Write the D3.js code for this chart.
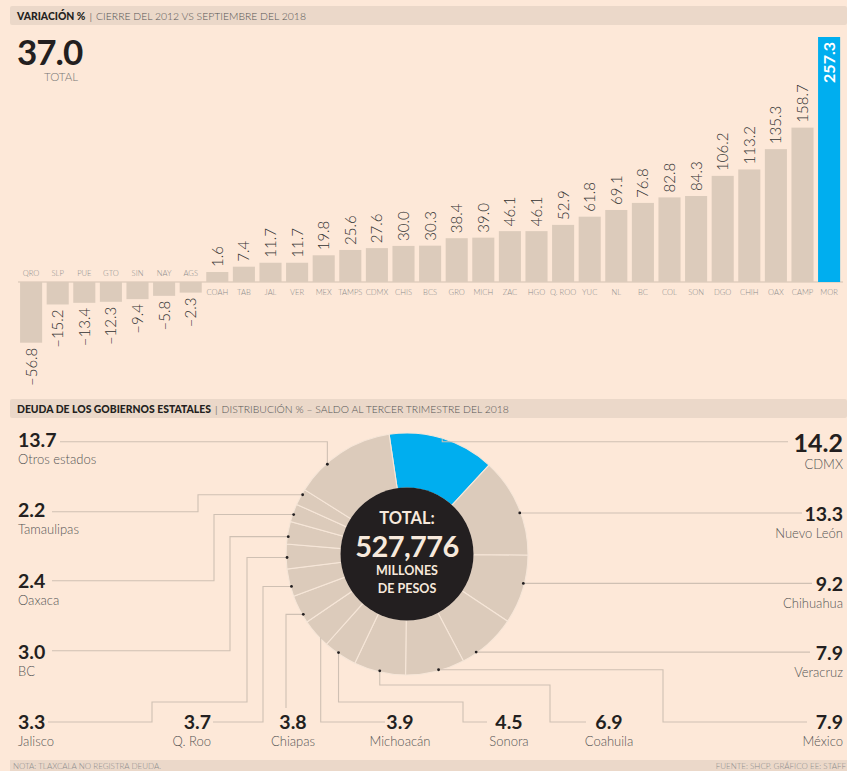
<!DOCTYPE html>
<html>
<head>
<meta charset="utf-8">
<script src="https://cdn.jsdelivr.net/npm/d3@7"></script>
<style>
  body { margin: 0; background: #fde8d8; }
  text { font-family: Lato, "Open Sans", sans-serif; }
</style>
</head>
<body>
<script>
// Variación % por estado, cierre 2012 vs sept 2018
const barStates = ["QRO","SLP","PUE","GTO","SIN","NAY","AGS","COAH","TAB","JAL","VER","MEX","TAMPS","CDMX","CHIS","BCS","GRO","MICH","ZAC","HGO","Q. ROO","YUC","NL","BC","COL","SON","DGO","CHIH","OAX","CAMP","MOR"];
const barValues = [-56.8,-15.2,-13.4,-12.3,-9.4,-5.8,-2.3,1.6,7.4,11.7,11.7,19.8,25.6,27.6,30.0,30.3,38.4,39.0,46.1,46.1,52.9,61.8,69.1,76.8,82.8,84.3,106.2,113.2,135.3,158.7,257.3];
const highlightBar = "MOR";
const totalVariation = "37.0";

// Distribución % de la deuda, tercer trimestre 2018
const debtStates = ["CDMX","Nuevo León","Chihuahua","Veracruz","México","Coahuila","Sonora","Michoacán","Chiapas","Q. Roo","Jalisco","BC","Oaxaca","Tamaulipas","Otros estados"];
const debtShare = [14.2,13.3,9.2,7.9,7.9,6.9,4.5,3.9,3.8,3.7,3.3,3.0,2.4,2.2,13.7];
const highlightDebt = "CDMX";
const totalDebt = "527,776";

// leader line layout (where the dot sits inside each slice, elbows, label anchor)
const leaders = [
  {dot: 0.5,  show: false, path: [["V",441.7],["H",788]], x: 843, anchor: "end", y: 451.7, big: true},
  {dot: 0.57, show: true,  path: [["H",802]], x: 843, anchor: "end", y: 520.7},
  {dot: 0.41, show: true,  path: [["H",812]], x: 843, anchor: "end", y: 591},
  {dot: 0.74, show: true,  path: [["H",810]], x: 843, anchor: "end", y: 660},
  {dot: 0.44, show: true,  path: [["H",663],["V",722],["H",807]], x: 843, anchor: "end", y: 729.3},
  {dot: 0.5,  show: true,  path: [["V",685],["H",550],["V",722],["H",586]], x: 609, anchor: "middle", y: 729.3},
  {dot: 0.57, show: true,  path: [["V",702],["H",463],["V",722],["H",487]], x: 509, anchor: "middle", y: 729.3},
  {dot: 0.3,  show: false, path: [["V",722],["H",385]], x: 400, anchor: "middle", y: 729.3},
  {dot: 0.29, show: true,  path: [["H",286],["V",708]], x: 293, anchor: "middle", y: 729.3},
  {dot: 0.36, show: true,  path: [["H",263],["V",722],["H",213]], x: 211, anchor: "end", y: 729.3},
  {dot: 0.46, show: true,  path: [["H",247],["V",702],["H",152],["V",722],["H",48]], x: 18, anchor: "start", y: 729.3},
  {dot: 0.33, show: true,  path: [["H",230],["V",650.7],["H",52]], x: 18, anchor: "start", y: 659.3},
  {dot: 0.42, show: true,  path: [["H",214],["V",580.7],["H",52]], x: 18, anchor: "start", y: 588.3},
  {dot: 0.68, show: true,  path: [["H",198],["V",511.7],["H",52]], x: 18, anchor: "start", y: 517.3},
  {dot: 0.33, show: true,  path: [["V",441.7],["H",60]], x: 18, anchor: "start", y: 447}
];

const width = 847, height = 771;
const bg = "#fde8d8", beige = "#dccbbb", blue = "#00aeef", ink = "#231f20", strip = "#ebd8c9";

const svg = d3.select("body").append("svg")
  .attr("width", width)
  .attr("height", height);

svg.append("rect").attr("width", width).attr("height", height).attr("fill", bg);

// ---------- header strips ----------
function header(y, bold, rest) {
  svg.append("rect").attr("x", 10).attr("y", y).attr("width", width - 10).attr("height", 19)
    .attr("rx", 2).attr("fill", strip);
  const t = svg.append("text").attr("x", 17).attr("y", y + 13.5).attr("font-size", 10.4).attr("fill", ink);
  t.append("tspan").attr("font-weight", 900).text(bold);
  t.append("tspan").attr("fill", "#8a7f78").attr("dx", 4).text("|");
  t.append("tspan").attr("fill", "#555").attr("dx", 4).attr("font-weight", 300).text(rest);
}
header(6, "VARIACIÓN %", "CIERRE DEL 2012 VS SEPTIEMBRE DEL 2018");
header(399, "DEUDA DE LOS GOBIERNOS ESTATALES", "DISTRIBUCIÓN % – SALDO AL TERCER TRIMESTRE DEL 2018");

svg.append("text").attr("x", 17).attr("y", 64.5).attr("font-size", 35).attr("font-weight", 700)
  .attr("letter-spacing", -1).attr("fill", ink).text(totalVariation);
svg.append("text").attr("x", 44).attr("y", 81).attr("font-size", 11.5).attr("font-weight", 300)
  .attr("fill", "#777").text("TOTAL");

// ---------- bars ----------
const zeroY = 282;
const x = d3.scaleBand().domain(barStates).range([17.8, 842.4]).paddingInner(0.17).paddingOuter(0.085);
// bar length from the zero line (the original draws a small base for every bar)
const len = d3.scaleLinear().domain([0, 257.3]).range([8.5, 245]);
const fmt = d => d3.format(".1f")(d).replace("−", "–");

const bars = barStates.map((s, i) => ({state: s, value: barValues[i]}));

svg.append("line").attr("x1", 18).attr("x2", 843).attr("y1", zeroY).attr("y2", zeroY)
  .attr("stroke", "#d3c1b1").attr("stroke-width", 1);

const g = svg.append("g");
g.selectAll("rect.bar").data(bars).enter().append("rect")
  .attr("class", "bar")
  .attr("x", d => x(d.state))
  .attr("width", x.bandwidth())
  .attr("y", d => d.value >= 0 ? zeroY - len(d.value) : zeroY)
  .attr("height", d => len(Math.abs(d.value)))
  .attr("fill", d => d.state === highlightBar ? blue : beige);

g.selectAll("text.val").data(bars).enter().append("text")
  .attr("class", "val")
  .attr("transform", d => {
    const cx = x(d.state) + x.bandwidth() / 2;
    let y;
    if (d.state === highlightBar) y = zeroY - len(d.value) + 5;
    else y = d.value >= 0 ? zeroY - len(d.value) - 5 : zeroY + len(-d.value) + 5;
    return `translate(${cx},${y}) rotate(-90)`;
  })
  .attr("dy", "0.36em")
  .attr("text-anchor", d => (d.value >= 0 && d.state !== highlightBar) ? "start" : "end")
  .attr("font-size", d => d.state === highlightBar ? 16 : 15)
  .attr("font-weight", d => d.state === highlightBar ? 700 : 300)
  .attr("fill", d => d.state === highlightBar ? "#fff" : "#333")
  .text(d => fmt(d.value));

g.selectAll("text.cat").data(bars).enter().append("text")
  .attr("class", "cat")
  .attr("x", d => x(d.state) + x.bandwidth() / 2)
  .attr("y", d => d.value >= 0 ? zeroY + 12.5 : zeroY - 6)
  .attr("text-anchor", "middle")
  .attr("font-size", 7.6)
  .attr("font-weight", 300)
  .attr("fill", "#8c8c8c")
  .text(d => d.state);

// ---------- donut ----------
const cx = 407, cy = 554, rOuter = 121, rInner = 66;
const start = -8.5 * Math.PI / 180;
const pie = d3.pie().sort(null).value(d => d.share).startAngle(start).endAngle(start + 2 * Math.PI);
const slices = pie(debtStates.map((s, i) => ({state: s, share: debtShare[i], lay: leaders[i]})));
const arc = d3.arc().innerRadius(rInner).outerRadius(rOuter);

const donut = svg.append("g").attr("transform", `translate(${cx},${cy})`);

function dotPos(d) {
  const a = d.startAngle + (d.endAngle - d.startAngle) * d.data.lay.dot;
  return [cx + 120 * Math.sin(a), cy - 120 * Math.cos(a)];
}

// leader lines under the ring
svg.append("g").selectAll("path").data(slices).enter().append("path")
  .attr("fill", "none")
  .attr("stroke", "#cfc0b3")
  .attr("stroke-width", 1.1)
  .attr("d", d => {
    let [px, py] = dotPos(d);
    let s = `M${px},${py}`;
    d.data.lay.path.forEach(([c, v]) => {
      if (c === "H") px = v; else py = v;
      s += `L${px},${py}`;
    });
    return s;
  });

donut.selectAll("path").data(slices).enter().append("path")
  .attr("d", arc)
  .attr("fill", d => d.data.state === highlightDebt ? blue : beige)
  .attr("stroke", "#f6e6d8")
  .attr("stroke-width", 1.1);

donut.append("circle").attr("r", rInner + 0.5).attr("fill", ink);

svg.append("g").selectAll("circle").data(slices.filter(d => d.data.lay.show)).enter().append("circle")
  .attr("cx", d => dotPos(d)[0])
  .attr("cy", d => dotPos(d)[1])
  .attr("r", 1.4)
  .attr("fill", ink);

const centre = [
  {t: "TOTAL:", y: -30, s: 16.5, ls: 0},
  {t: totalDebt, y: 2.5, s: 29, ls: -0.6},
  {t: "MILLONES", y: 21, s: 12.5, ls: 0},
  {t: "DE PESOS", y: 38.7, s: 12.5, ls: 0}
];
donut.selectAll("text").data(centre).enter().append("text")
  .attr("y", d => d.y).attr("text-anchor", "middle")
  .attr("font-size", d => d.s).attr("font-weight", 700)
  .attr("letter-spacing", d => d.ls)
  .attr("fill", "#f7e9dc")
  .text(d => d.t);

// labels
const labels = svg.append("g").selectAll("g").data(slices).enter().append("g");
labels.append("text")
  .attr("x", d => d.data.lay.x).attr("y", d => d.data.lay.y)
  .attr("text-anchor", d => d.data.lay.anchor)
  .attr("font-size", d => d.data.lay.big ? 25 : 19.5)
  .attr("font-weight", 700)
  .attr("fill", ink)
  .text(d => d3.format(".1f")(d.data.share));
labels.append("text")
  .attr("x", d => d.data.lay.x).attr("y", d => d.data.lay.y + (d.data.lay.big ? 17.3 : 17))
  .attr("text-anchor", d => d.data.lay.anchor)
  .attr("font-size", 13)
  .attr("font-weight", 300)
  .attr("fill", "#555")
  .text(d => d.data.state);

// ---------- footer ----------
svg.append("rect").attr("x", 10).attr("y", 760).attr("width", width - 10).attr("height", 11).attr("fill", strip);
svg.append("text").attr("x", 13).attr("y", 769).attr("font-size", 8).attr("font-weight", 300)
  .attr("fill", "#8c8c8c").text("NOTA: TLAXCALA NO REGISTRA DEUDA.");
svg.append("text").attr("x", 846).attr("y", 769).attr("text-anchor", "end").attr("font-size", 8)
  .attr("font-weight", 300).attr("fill", "#8c8c8c").text("FUENTE: SHCP. GRÁFICO EE: STAFF");
</script>
</body>
</html>
